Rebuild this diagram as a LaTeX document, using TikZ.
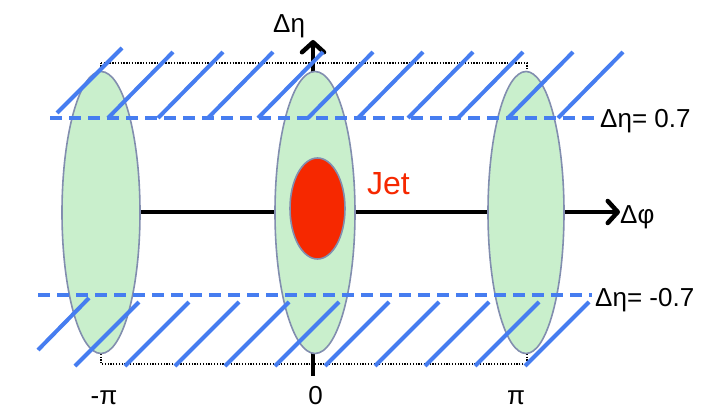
\documentclass[tikz,border=0pt]{standalone}
\usepackage{fontspec}
\setmainfont{Liberation Sans}
\usetikzlibrary{shapes.geometric,arrows.meta}
\definecolor{hatchblue}{RGB}{70,125,240}
\definecolor{bandgreen}{RGB}{201,239,204}
\definecolor{rimgray}{RGB}{130,142,175}
\definecolor{jetred}{RGB}{246,40,0}
\begin{document}
\begin{tikzpicture}[x=1pt,y=-1pt,
  lbl/.style={font=\fontsize{26}{30}\selectfont, inner sep=0pt},
  band/.style={ellipse, draw=rimgray, line width=1.6pt, fill=bandgreen, minimum width=78pt, minimum height=282pt, inner sep=0pt},
  jetblob/.style={ellipse, draw=rimgray, line width=1.6pt, fill=jetred, minimum width=55pt, minimum height=101pt, inner sep=0pt},
  axisline/.style={line width=3.5pt, black},
  hatch/.style={line width=4pt, hatchblue},
  cutline/.style={line width=4pt, hatchblue, dash pattern=on 12pt off 7pt},
  frame/.style={line width=1.2pt, black, dash pattern=on 1.3pt off 1.5pt},
  tip/.style={-{Straight Barb[length=10pt, width=22pt, line width=4.5pt, round]}}
]
\useasboundingbox (0,0) rectangle (715,412);
% dotted frame
\coordinate (fa) at (101,63);
\coordinate (fb) at (527,63);
\coordinate (fc) at (527,364);
\coordinate (fd) at (101,364);
\draw[frame] (fa) -- (fb) -- (fc) -- (fd) -- cycle;
% axes
\coordinate (xstart) at (101,212);
\coordinate (xend) at (620,212);
\coordinate (ystart) at (313,376);
\coordinate (yend) at (313,40);
\draw[axisline, tip] (xstart) -- (xend);
\draw[axisline, tip] (ystart) -- (yend);
% bands
\node[band] (left) at (101,212.5) {};
\node[band, minimum width=80pt] (mid) at (315,212.5) {};
\node[band, minimum width=76pt] (right) at (526,212.5) {};
\node[jetblob] (jet) at (317.5,208.5) {};
% hatches
\draw[hatch] (57,113) -- (122,48);
\foreach \x in {108,158,...,558} \draw[hatch] (\x,118) -- (\x+65,52);
\draw[hatch] (38,350) -- (89,298);
\foreach \x in {75,125,...,525} \draw[hatch] (\x,366) -- (\x+64,302);
% dashed cut lines
\coordinate (ta) at (50,118);
\coordinate (tb) at (600,118);
\coordinate (ba) at (38,295);
\coordinate (bb) at (592,295);
\draw[cutline] (ta) -- (tb);
\draw[cutline] (ba) -- (bb);
% labels
\node[lbl, anchor=base west] (etaup) at (600,127) {Δη= 0.7};
\node[lbl, anchor=base west] (etadown) at (595,306) {Δη= -0.7};
\node[lbl, anchor=base west] (phi) at (620,223) {Δφ};
\node[lbl, anchor=base west] (eta) at (273,33) {Δη};
\node[lbl, anchor=base west, font=\fontsize{32}{36}\selectfont, text=jetred] (jetlbl) at (367,194) {Jet};
\node[lbl, anchor=base] (mpi) at (104,404) {-π};
\node[lbl, anchor=base] (zero) at (315.5,404) {0};
\node[lbl, anchor=base] (ppi) at (516,404) {π};
\end{tikzpicture}
\end{document}
